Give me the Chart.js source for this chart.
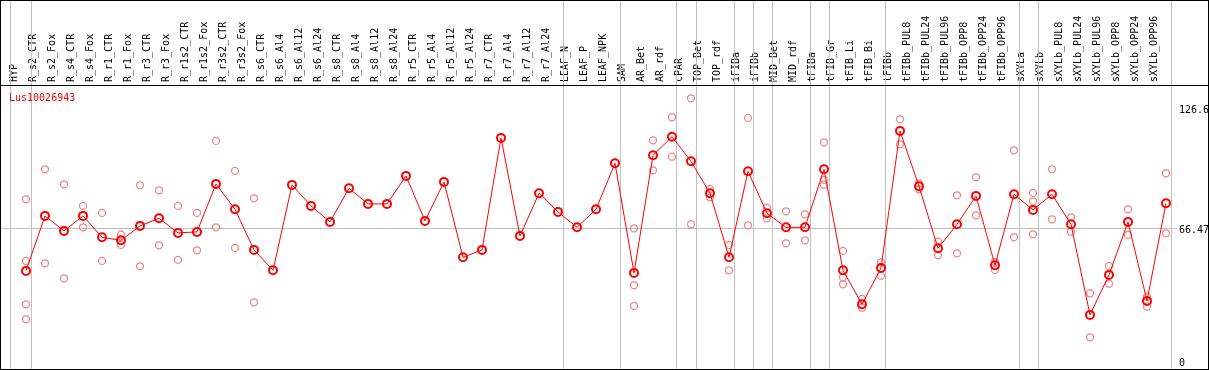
<!DOCTYPE html>
<html>
<head>
<meta charset="utf-8">
<script src="https://cdn.jsdelivr.net/npm/chart.js@4/dist/chart.umd.min.js"></script>
<style>
  html, body { margin: 0; padding: 0; background: #fff; }
  #chart { display: block; }
</style>
</head>
<body>
<canvas id="chart" width="1209" height="370"></canvas>
<script>
const geneId = 'Lus10026943';

const categories = [
  'HYP', 'R_s2_CTR', 'R_s2_Fox', 'R_s4_CTR', 'R_s4_Fox', 'R_r1_CTR', 'R_r1_Fox', 'R_r3_CTR', 'R_r3_Fox',
  'R_r1s2_CTR', 'R_r1s2_Fox', 'R_r3s2_CTR', 'R_r3s2_Fox', 'R_s6_CTR', 'R_s6_Al4', 'R_s6_Al12', 'R_s6_Al24',
  'R_s8_CTR', 'R_s8_Al4', 'R_s8_Al12', 'R_s8_Al24', 'R_r5_CTR', 'R_r5_Al4', 'R_r5_Al12', 'R_r5_Al24',
  'R_r7_CTR', 'R_r7_Al4', 'R_r7_Al12', 'R_r7_Al24', 'LEAF_N', 'LEAF_P', 'LEAF_NPK', 'SAM', 'AR_Bet', 'AR_rdf',
  'cPAR', 'TOP_Bet', 'TOP_rdf', 'iFIBa', 'iFIBb', 'MID_Bet', 'MID_rdf', 'tFIBa', 'tFIB_Gr', 'tFIB_Li', 'tFIB_Bi',
  'tFIBb', 'tFIBb_PUL8', 'tFIBb_PUL24', 'tFIBb_PUL96', 'tFIBb_OPP8', 'tFIBb_OPP24', 'tFIBb_OPP96',
  'sXYLa', 'sXYLb', 'sXYLb_PUL8', 'sXYLb_PUL24', 'sXYLb_PUL96', 'sXYLb_OPP8', 'sXYLb_OPP24', 'sXYLb_OPP96'
];

// mean expression per sample
const meanValues = [
  45.3, 72.8, 65.3, 72.8, 62.1, 60.6, 67.8, 71.6, 64.3,
  64.8, 88.8, 76.1, 55.8, 45.6, 88.3, 77.8, 69.8,
  86.6, 78.8, 78.8, 92.8, 70.3, 89.8, 52.1, 55.8,
  111.8, 62.8, 84.1, 74.8, 67.1, 76.1, 99.1, 44.3, 103.1, 112.4,
  100.1, 84.1, 52.1, 95.1, 74.1, 67.1, 67.1, 96.1, 45.6, 28.6, 46.8,
  115.3, 87.6, 56.6, 68.6, 82.8, 48.1, 83.6,
  75.8, 83.6, 68.6, 23.3, 43.3, 69.8, 30.3, 79.1
];

// individual replicates per sample
const replicateValues = [
  [81.1, 50.3, 28.6, 21.1], [96.1, 49.1], [88.6, 41.6], [77.8, 67.1], [74.3, 50.3], [63.4, 58.3], [88.1, 47.6], [85.6, 58.1], [77.8, 50.8],
  [74.3, 55.6], [110.3, 67.1], [95.3, 56.8], [81.6, 29.6], [], [], [], [],
  [], [], [], [], [], [], [], [],
  [], [], [], [], [], [], [], [66.6, 38.1, 27.8], [110.6, 95.6], [122.1, 102.4],
  [131.6, 68.6], [86.3, 82.1], [58.3, 45.6], [121.8, 68.1], [76.9, 71.6], [75.1, 59.1], [73.6, 60.6], [109.6, 90.8, 88.4], [55.3, 42.1, 38.6], [31.3, 26.9], [49.6, 42.9],
  [121.1, 108.6], [89.1, 86.1], [59.9, 53.1], [83.1, 54.1], [92.1, 73.1], [49.8, 45.8], [105.6, 62.1],
  [84.3, 80.1, 63.6], [96.1, 71.1], [72.1, 64.9], [34.1, 12.1], [47.8, 38.9], [76.1, 63.3], [32.4, 27.4], [94.1, 64.1]
];

// last sample index of each tissue group (separator drawn after it)
const groupEnds = [0, 28, 31, 34, 35, 37, 38, 39, 41, 42, 45, 52, 53, 60];

const yTicks = [0, 66.47, 126.6];
const yTickLabels = ['0', '66.47', '126.6'];
const meanLine = 66.47;

const MONO = '"DejaVu Sans Mono", "Liberation Mono", monospace';
const GRID = '#c0c0c0';

const framePlugin = {
  id: 'frame',
  beforeDatasetsDraw(chart) {
    const { ctx, chartArea } = chart;
    const xs = chart.scales.x;
    ctx.save();
    ctx.strokeStyle = GRID;
    ctx.lineWidth = 1;
    const edges = [xs.getPixelForValue(0) - 16].concat(groupEnds.map(i => xs.getPixelForValue(i) + 4.5));
    edges.forEach(px => {
      const x = Math.round(px) + 0.5;
      ctx.beginPath();
      ctx.moveTo(x, 0);
      ctx.lineTo(x, chartArea.bottom);
      ctx.stroke();
    });
    ctx.restore();
  },
  afterDraw(chart) {
    const { ctx, chartArea, width, height } = chart;
    ctx.save();
    ctx.strokeStyle = '#000';
    ctx.lineWidth = 1;
    ctx.strokeRect(0.5, 0.5, width - 1, height - 1);
    ctx.beginPath();
    ctx.moveTo(0, chartArea.top + 0.5);
    ctx.lineTo(width, chartArea.top + 0.5);
    ctx.stroke();
    ctx.fillStyle = '#ff0000';
    ctx.font = '10px ' + MONO;
    ctx.textBaseline = 'top';
    ctx.fillText(geneId, 9, chartArea.top + 8);
    ctx.restore();
  }
};

const replicatePoints = replicateValues.flatMap((reps, i) => reps.map(v => ({ x: i, y: v })));
const meanPoints = meanValues.map((v, i) => ({ x: i, y: v }));

function noPadding(axis) {
  axis.paddingLeft = 0;
  axis.paddingRight = 0;
  axis.paddingTop = 0;
  axis.paddingBottom = 0;
}

new Chart(document.getElementById('chart'), {
  type: 'scatter',
  data: {
    datasets: [
      {
        type: 'line',
        label: geneId,
        data: meanPoints,
        borderColor: '#ff0000',
        borderWidth: 1,
        pointStyle: 'circle',
        pointRadius: 4,
        pointBorderWidth: 2,
        pointBorderColor: '#ff0000',
        pointBackgroundColor: 'rgba(0,0,0,0)',
        tension: 0,
        clip: false,
        order: 0
      },
      {
        label: 'replicates',
        data: replicatePoints,
        showLine: false,
        pointStyle: 'circle',
        pointRadius: 3.5,
        pointBorderWidth: 1.3,
        pointBorderColor: '#ee8888',
        pointBackgroundColor: 'rgba(0,0,0,0)',
        clip: false,
        order: 1
      }
    ]
  },
  options: {
    responsive: false,
    animation: false,
    devicePixelRatio: 1,
    layout: { autoPadding: false, padding: { left: 1, right: 1, top: 0, bottom: 1 } },
    plugins: { legend: { display: false }, tooltip: { enabled: false } },
    scales: {
      x: {
        type: 'linear',
        position: 'top',
        min: -25 / 19,
        max: 60 + 11 / 19,
        afterBuildTicks: axis => { axis.ticks = categories.map((c, i) => ({ value: i })); },
        afterFit: axis => { axis.height = 85; noPadding(axis); },
        grid: { display: false, drawTicks: false },
        border: { display: false },
        ticks: {
          autoSkip: false,
          minRotation: 90,
          maxRotation: 90,
          padding: 3,
          color: '#000',
          font: { family: MONO, size: 10 },
          callback: value => categories[value]
        }
      },
      y: {
        type: 'linear',
        position: 'right',
        min: -3.75,
        max: 138.25,
        afterBuildTicks: axis => { axis.ticks = yTicks.map(v => ({ value: v })); },
        afterFit: axis => { axis.width = 31; noPadding(axis); },
        grid: {
          drawTicks: false,
          color: c => (c.tick && c.tick.value === meanLine) ? GRID : 'rgba(0,0,0,0)'
        },
        border: { display: false },
        ticks: {
          padding: 2,
          labelOffset: 2,
          color: '#000',
          font: { family: MONO, size: 10 },
          callback: value => yTickLabels[yTicks.indexOf(value)]
        }
      }
    }
  },
  plugins: [framePlugin]
});
</script>
</body>
</html>
